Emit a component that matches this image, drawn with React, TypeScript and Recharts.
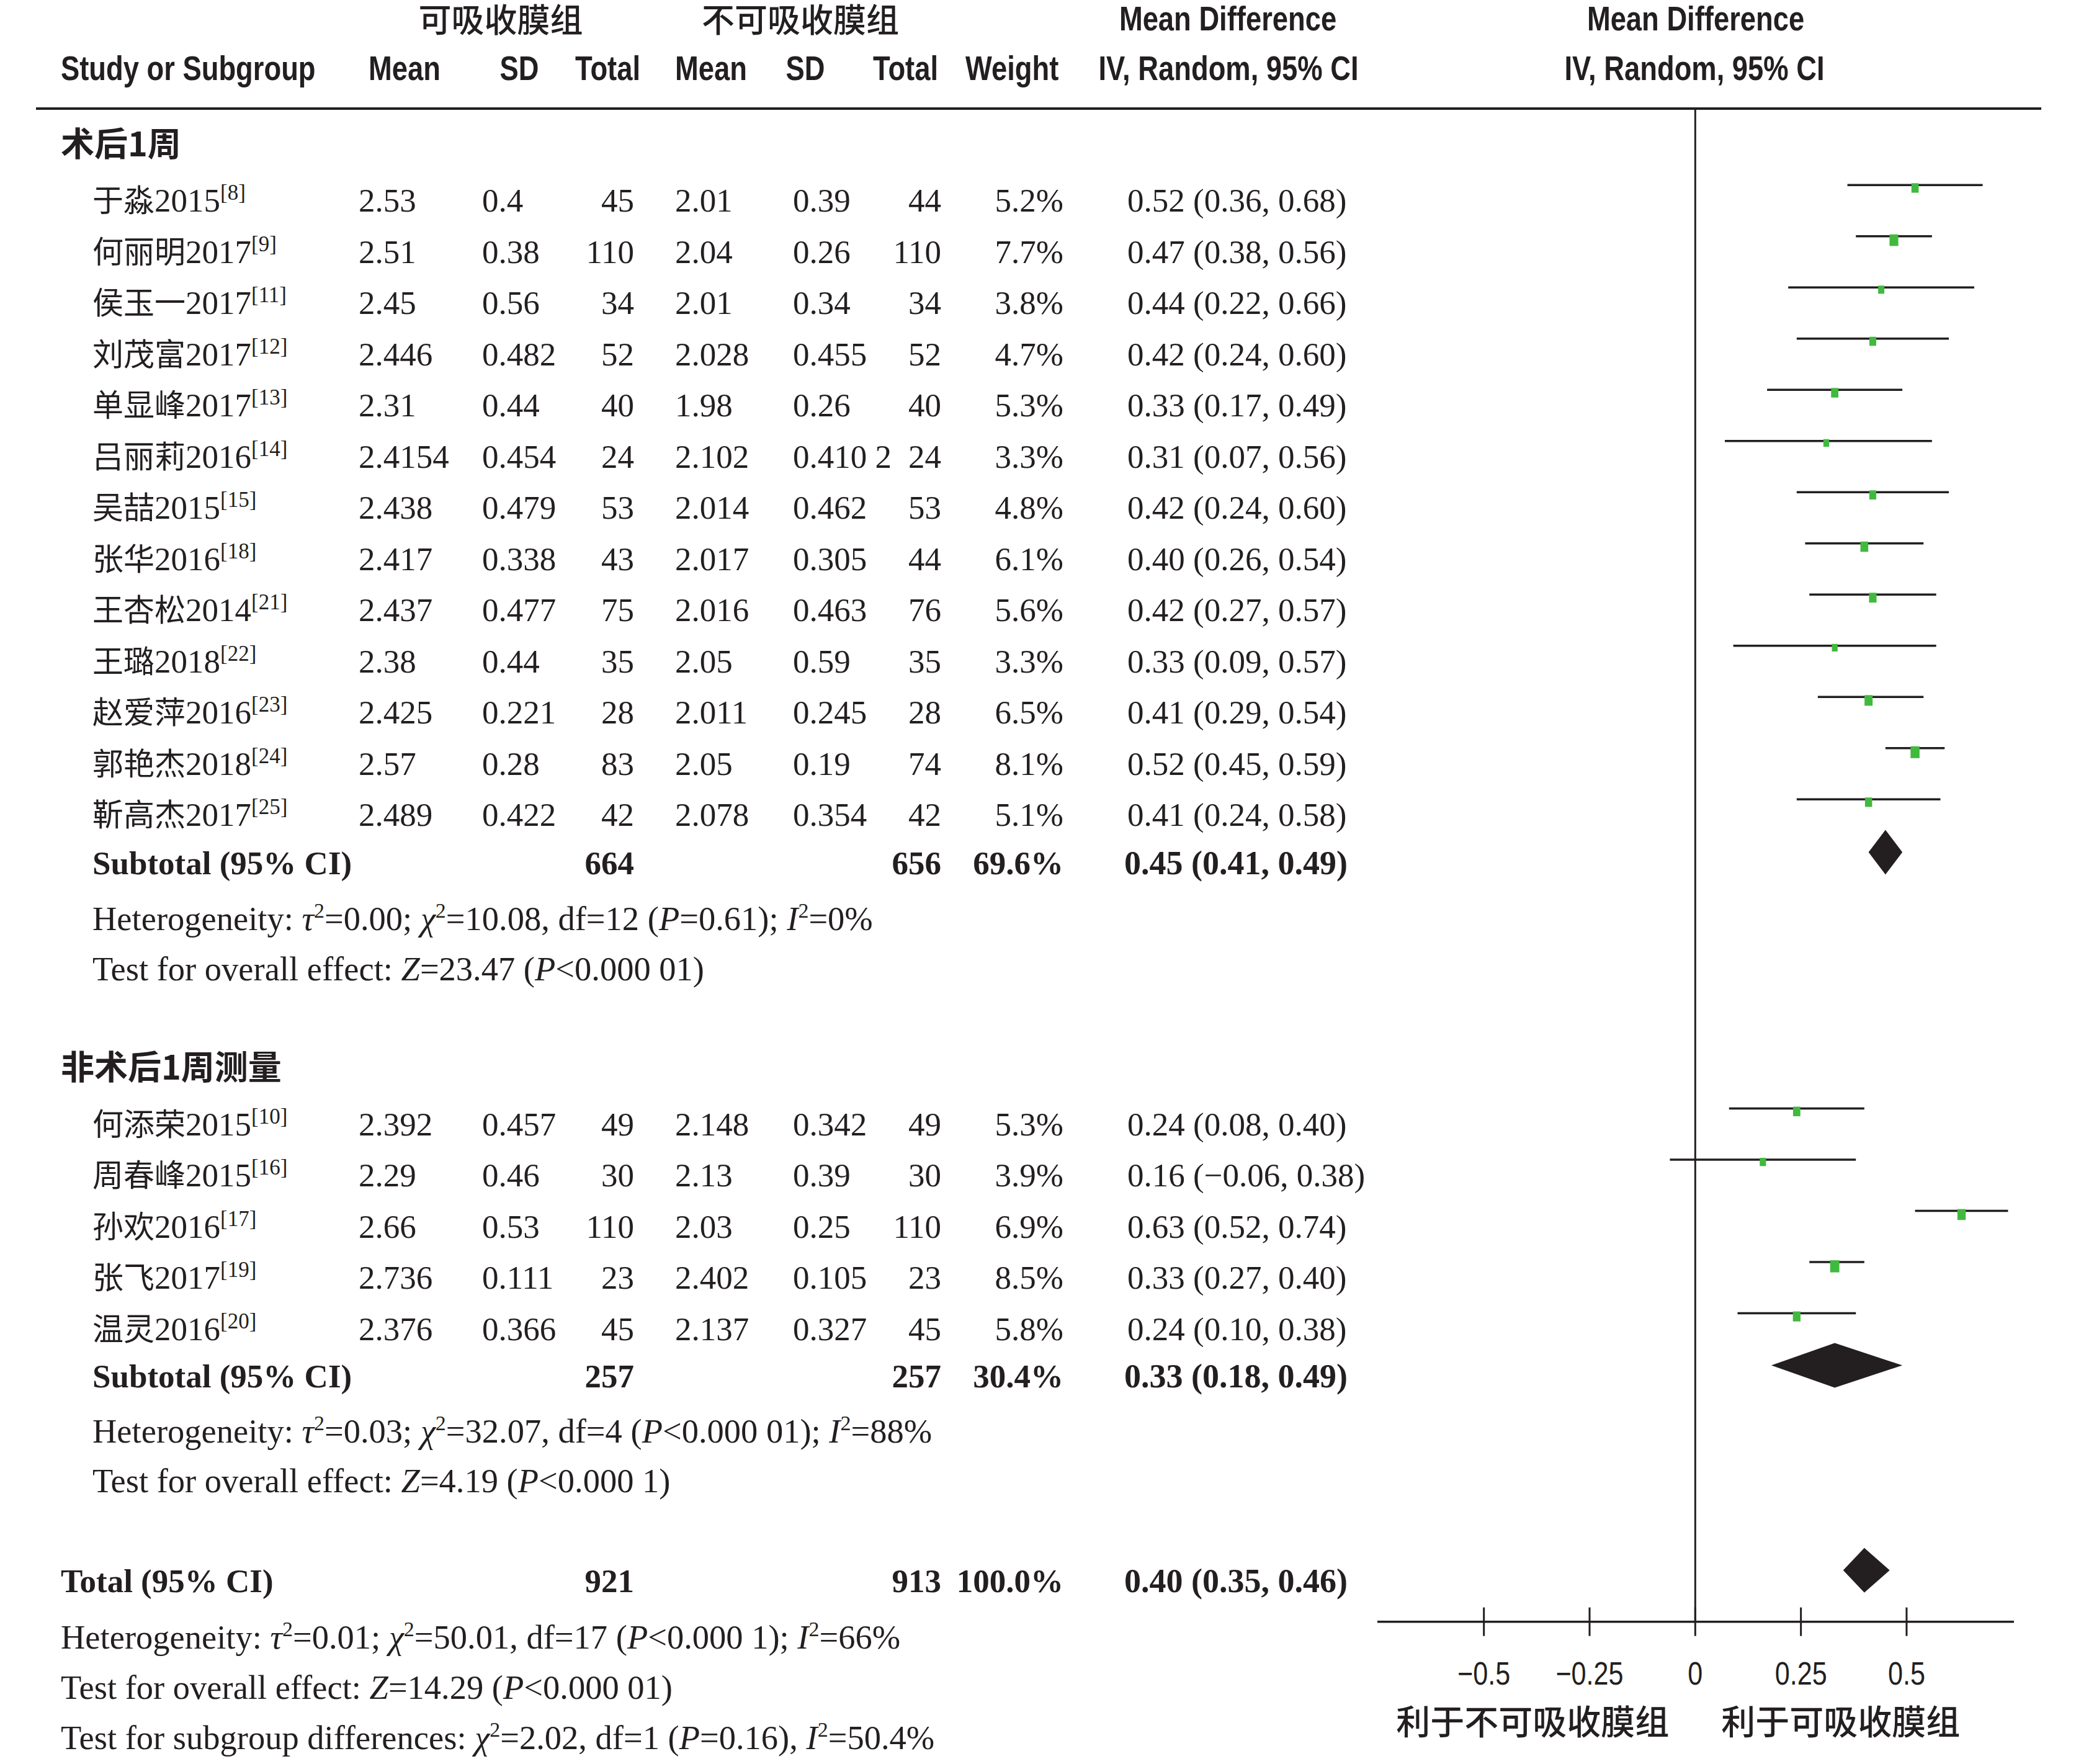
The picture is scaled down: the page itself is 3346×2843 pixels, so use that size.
import React from 'react';
import {
  ComposedChart,
  XAxis,
  YAxis,
  Scatter,
  ErrorBar,
  ReferenceLine,
  ReferenceArea,
  ReferenceDot,
} from 'recharts';

const W = 3346;
const H = 2843;

// ---------- data ----------
const groupNames = ['术后1周', '非术后1周测量'];
const armNames = ['可吸收膜组', '不可吸收膜组'];
const colHeads = ['Mean', 'SD', 'Total', 'Mean', 'SD', 'Total', 'Weight'];
const mdHead = ['Mean Difference', 'IV, Random, 95% CI'];

const g1Study = ['于淼2015', '何丽明2017', '侯玉一2017', '刘茂富2017', '单显峰2017', '吕丽莉2016', '吴喆2015', '张华2016', '王杏松2014', '王璐2018', '赵爱萍2016', '郭艳杰2018', '靳高杰2017'];
const g1Ref = ['8', '9', '11', '12', '13', '14', '15', '18', '21', '22', '23', '24', '25'];
const g1MeanA = ['2.53', '2.51', '2.45', '2.446', '2.31', '2.4154', '2.438', '2.417', '2.437', '2.38', '2.425', '2.57', '2.489'];
const g1SdA = ['0.4', '0.38', '0.56', '0.482', '0.44', '0.454', '0.479', '0.338', '0.477', '0.44', '0.221', '0.28', '0.422'];
const g1NA = [45, 110, 34, 52, 40, 24, 53, 43, 75, 35, 28, 83, 42];
const g1MeanB = ['2.01', '2.04', '2.01', '2.028', '1.98', '2.102', '2.014', '2.017', '2.016', '2.05', '2.011', '2.05', '2.078'];
const g1SdB = ['0.39', '0.26', '0.34', '0.455', '0.26', '0.410 2', '0.462', '0.305', '0.463', '0.59', '0.245', '0.19', '0.354'];
const g1NB = [44, 110, 34, 52, 40, 24, 53, 44, 76, 35, 28, 74, 42];
const g1Weight = [5.2, 7.7, 3.8, 4.7, 5.3, 3.3, 4.8, 6.1, 5.6, 3.3, 6.5, 8.1, 5.1];
const g1MD = [0.52, 0.47, 0.44, 0.42, 0.33, 0.31, 0.42, 0.40, 0.42, 0.33, 0.41, 0.52, 0.41];
const g1Lo = [0.36, 0.38, 0.22, 0.24, 0.17, 0.07, 0.24, 0.26, 0.27, 0.09, 0.29, 0.45, 0.24];
const g1Hi = [0.68, 0.56, 0.66, 0.60, 0.49, 0.56, 0.60, 0.54, 0.57, 0.57, 0.54, 0.59, 0.58];

const g2Study = ['何添荣2015', '周春峰2015', '孙欢2016', '张飞2017', '温灵2016'];
const g2Ref = ['10', '16', '17', '19', '20'];
const g2MeanA = ['2.392', '2.29', '2.66', '2.736', '2.376'];
const g2SdA = ['0.457', '0.46', '0.53', '0.111', '0.366'];
const g2NA = [49, 30, 110, 23, 45];
const g2MeanB = ['2.148', '2.13', '2.03', '2.402', '2.137'];
const g2SdB = ['0.342', '0.39', '0.25', '0.105', '0.327'];
const g2NB = [49, 30, 110, 23, 45];
const g2Weight = [5.3, 3.9, 6.9, 8.5, 5.8];
const g2MD = [0.24, 0.16, 0.63, 0.33, 0.24];
const g2Lo = [0.08, -0.06, 0.52, 0.27, 0.10];
const g2Hi = [0.40, 0.38, 0.74, 0.40, 0.38];

const sumLabel = ['Subtotal (95% CI)', 'Subtotal (95% CI)', 'Total (95% CI)'];
const sumNA = [664, 257, 921];
const sumNB = [656, 257, 913];
const sumWeight = [69.6, 30.4, 100.0];
const sumMD = [0.45, 0.33, 0.40];
const sumLo = [0.41, 0.18, 0.35];
const sumHi = [0.49, 0.49, 0.46];

const g1Stats = [
  'Heterogeneity: *τ*^2^=0.00; *χ*^2^=10.08, df=12 (*P*=0.61); *I*^2^=0%',
  'Test for overall effect: *Z*=23.47 (*P*<0.000 01)',
];
const g2Stats = [
  'Heterogeneity: *τ*^2^=0.03; *χ*^2^=32.07, df=4 (*P*<0.000 01); *I*^2^=88%',
  'Test for overall effect: *Z*=4.19 (*P*<0.000 1)',
];
const totalStats = [
  'Heterogeneity: *τ*^2^=0.01; *χ*^2^=50.01, df=17 (*P*<0.000 1); *I*^2^=66%',
  'Test for overall effect: *Z*=14.29 (*P*<0.000 01)',
  'Test for subgroup differences: *χ*^2^=2.02, df=1 (*P*=0.16), *I*^2^=50.4%',
];

const axisTicks = [-0.5, -0.25, 0, 0.25, 0.5];
const axisTickLabels = ['−0.5', '−0.25', '0', '0.25', '0.5'];
const favourLabels = ['利于不可吸收膜组', '利于可吸收膜组'];

// ---------- layout (row units) ----------
const X_DOMAIN: [number, number] = [-0.752, 0.754];
const PITCH = 82.5;
const R_MIN = -298.3 / PITCH;
const R_MAX = (H - 298.3) / PITCH;
const ROW = {
  head1: -3.54,
  head2: -2.573,
  rule: -1.495,
  g1Head: -1.082,
  g1Start: 0,
  g1Sub: 13.033,
  g1Stats: [14.03, 15.01],
  g2Head: 16.957,
  g2Start: 18.04,
  g2Sub: 23.057,
  g2Stats: [24.04, 25.02],
  tot: 27.06,
  totStats: [28.07, 29.05, 30.03],
  axis: 28.065,
};
const DIAMOND_HALF = 36 / PITCH;
const TICK_HALF = 23 / PITCH;

const ink = '#231f20';
const green = '#41b93f';
const SERIF = "'Liberation Serif', 'Times New Roman', 'Noto Sans CJK SC', serif";
const SANS = "'Liberation Sans', Arial, sans-serif";
const CJK = "'Noto Sans CJK SC', sans-serif";
const FS = 53;

const fmt = (v: number) => v.toFixed(2).replace('-', '−');
const ciText = (m: number, l: number, h: number) => `${fmt(m)} (${fmt(l)}, ${fmt(h)})`;

function rich(s: string) {
  const parts = s.split(/(\*[^*]+\*|\^[^^]+\^)/).filter((p) => p.length > 0);
  const out: React.ReactNode[] = [];
  let raised = false;
  parts.forEach((p, i) => {
    if (p[0] === '^') {
      out.push(
        <tspan key={i} fontSize={34} dy={-20}>
          {p.slice(1, -1)}
        </tspan>
      );
      raised = true;
    } else {
      const italic = p[0] === '*';
      out.push(
        <tspan key={i} fontStyle={italic ? 'italic' : undefined} dy={raised ? 20 : undefined}>
          {italic ? p.slice(1, -1) : p}
        </tspan>
      );
      raised = false;
    }
  });
  return out;
}

const Txt = (p: { x: number; y: number; a?: 'start' | 'middle' | 'end'; b?: boolean; fs?: number; children: React.ReactNode }) => (
  <text
    x={p.x}
    y={p.y}
    textAnchor={p.a || 'start'}
    fontFamily={SERIF}
    fontSize={p.fs || FS}
    fontWeight={p.b ? 'bold' : 'normal'}
    fill={ink}
  >
    {p.children}
  </text>
);

const Head = (p: { x: number; y: number; a?: 'start' | 'middle' | 'end'; children: React.ReactNode }) => (
  <text
    transform={`translate(${p.x} ${p.y}) scale(0.81 1)`}
    textAnchor={p.a || 'middle'}
    fontFamily={SANS}
    fontWeight="bold"
    fontSize={56}
    fill={ink}
  >
    {p.children}
  </text>
);

const StudyName = ({ x, y, name, refNo }: { x: number; y: number; name: string; refNo: string }) => {
  const m = name.match(/^(\D+)(\d+)$/);
  const cjk = m ? m[1] : name;
  const yr = m ? m[2] : '';
  return (
    <text x={x} y={y} fontFamily={SERIF} fontSize={FS} fill={ink}>
      <tspan fontFamily={CJK} fontSize={50}>{cjk}</tspan>
      <tspan>{yr}</tspan>
      <tspan fontSize={35} dy={-19}>[{refNo}]</tspan>
    </text>
  );
};

type Row = { r: number; render: (y: number) => React.ReactElement };
const tableRows: Row[] = [];

tableRows.push({
  r: ROW.head1,
  render: (y) => {
    const b = y + 43;
    return (
      <g>
        <text x={807} y={b + 3} textAnchor="middle" fontFamily={CJK} fontWeight={500} fontSize={53} fill={ink}>{armNames[0]}</text>
        <text x={1290} y={b + 3} textAnchor="middle" fontFamily={CJK} fontWeight={500} fontSize={53} fill={ink}>{armNames[1]}</text>
        <Head x={1979} y={b}>{mdHead[0]}</Head>
        <Head x={2733} y={b}>{mdHead[0]}</Head>
      </g>
    );
  },
});
tableRows.push({
  r: ROW.head2,
  render: (y) => {
    const b = y + 43;
    return (
      <g>
        <Head x={98} y={b} a="start">Study or Subgroup</Head>
        <Head x={652} y={b}>{colHeads[0]}</Head>
        <Head x={837} y={b}>{colHeads[1]}</Head>
        <Head x={1032} y={b} a="end">{colHeads[2]}</Head>
        <Head x={1146} y={b}>{colHeads[3]}</Head>
        <Head x={1298} y={b}>{colHeads[4]}</Head>
        <Head x={1512} y={b} a="end">{colHeads[5]}</Head>
        <Head x={1556} y={b} a="start">{colHeads[6]}</Head>
        <Head x={1980} y={b}>{mdHead[1]}</Head>
        <Head x={2731} y={b}>{mdHead[1]}</Head>
      </g>
    );
  },
});
tableRows.push({
  r: ROW.rule,
  render: (y) => <line x1={58} x2={3290} y1={y} y2={y} stroke={ink} strokeWidth={4} />,
});

const groupHead = (r: number, name: string) =>
  tableRows.push({
    r,
    render: (y) => (
      <text x={98} y={y + 43} fontFamily={CJK} fontWeight="bold" fontSize={54} fill={ink}>
        {name}
      </text>
    ),
  });

type Study = {
  name: string; refNo: string; mA: string; sA: string; nA: number; mB: string; sB: string; nB: number;
  weight: number; md: number; lo: number; hi: number; r: number; err: [number, number];
};
const studies: Study[] = [];
const addGroup = (
  start: number, names: string[], refs: string[], mA: string[], sA: string[], nA: number[],
  mB: string[], sB: string[], nB: number[], w: number[], md: number[], lo: number[], hi: number[]
) => {
  names.forEach((n, i) => {
    const s: Study = {
      name: n, refNo: refs[i], mA: mA[i], sA: sA[i], nA: nA[i], mB: mB[i], sB: sB[i], nB: nB[i],
      weight: w[i], md: md[i], lo: lo[i], hi: hi[i], r: start + i, err: [md[i] - lo[i], hi[i] - md[i]],
    };
    studies.push(s);
    tableRows.push({
      r: s.r,
      render: (y) => {
        const b = y + 43;
        return (
          <g>
            <StudyName x={149} y={b} name={s.name} refNo={s.refNo} />
            <Txt x={578} y={b}>{s.mA}</Txt>
            <Txt x={777} y={b}>{s.sA}</Txt>
            <Txt x={1022} y={b} a="end">{s.nA}</Txt>
            <Txt x={1088} y={b}>{s.mB}</Txt>
            <Txt x={1278} y={b}>{s.sB}</Txt>
            <Txt x={1517} y={b} a="end">{s.nB}</Txt>
            <Txt x={1714} y={b} a="end">{s.weight.toFixed(1)}%</Txt>
            <Txt x={1817} y={b}>{ciText(s.md, s.lo, s.hi)}</Txt>
          </g>
        );
      },
    });
  });
};

const summaries: { r: number; md: number; lo: number; hi: number }[] = [];
const addSummary = (k: number, r: number, labelX: number) => {
  summaries.push({ r, md: sumMD[k], lo: sumLo[k], hi: sumHi[k] });
  tableRows.push({
    r,
    render: (y) => {
      const b = y + 35.5;
      return (
        <g>
          <Txt x={labelX} y={b} b>{sumLabel[k]}</Txt>
          <Txt x={1022} y={b} a="end" b>{sumNA[k]}</Txt>
          <Txt x={1517} y={b} a="end" b>{sumNB[k]}</Txt>
          <Txt x={1714} y={b} a="end" b>{sumWeight[k].toFixed(1)}%</Txt>
          <Txt x={1812} y={b} b fs={54}>{ciText(sumMD[k], sumLo[k], sumHi[k])}</Txt>
        </g>
      );
    },
  });
};
const addStats = (rs: number[], lines: string[], x: number) =>
  lines.forEach((l, i) =>
    tableRows.push({
      r: rs[i],
      render: (y) => <Txt x={x} y={y + 43} fs={54.5}>{rich(l)}</Txt>,
    })
  );

groupHead(ROW.g1Head, groupNames[0]);
addGroup(ROW.g1Start, g1Study, g1Ref, g1MeanA, g1SdA, g1NA, g1MeanB, g1SdB, g1NB, g1Weight, g1MD, g1Lo, g1Hi);
addSummary(0, ROW.g1Sub, 149);
addStats(ROW.g1Stats, g1Stats, 149);
groupHead(ROW.g2Head, groupNames[1]);
addGroup(ROW.g2Start, g2Study, g2Ref, g2MeanA, g2SdA, g2NA, g2MeanB, g2SdB, g2NB, g2Weight, g2MD, g2Lo, g2Hi);
addSummary(1, ROW.g2Sub, 149);
addStats(ROW.g2Stats, g2Stats, 149);
addSummary(2, ROW.tot, 98);
addStats(ROW.totStats, totalStats, 98);

const tableTicks = tableRows.map((t) => t.r);

const renderTableTick = (props: any) => {
  const v = props?.payload?.value;
  const row = tableRows.find((t) => Math.abs(t.r - v) < 1e-6);
  if (!row) return <g />;
  return <g>{row.render(props.y)}</g>;
};

const Marker = (p: any) => {
  const w = p.payload?.weight ?? 5;
  const bw = 5.1 * Math.sqrt(w);
  const bh = 6.7 * Math.sqrt(w);
  return <rect x={p.cx - bw / 2} y={p.cy - 3} width={bw} height={bh} fill={green} />;
};

const diamondShape = (frac: number) => (p: any) => {
  const { x, y, width, height } = p;
  const cx = x + frac * width;
  const cy = y + height / 2;
  return <polygon points={`${x},${cy} ${cx},${y} ${x + width},${cy} ${cx},${y + height}`} fill={ink} />;
};

export default function App() {
  return (
    <div style={{ position: 'absolute', left: 0, top: 0, width: W, height: H, background: '#fff' }}>
      <ComposedChart width={W} height={H} margin={{ top: 0, right: 100, bottom: 0, left: 0 }}>
        <XAxis type="number" dataKey="md" domain={X_DOMAIN} hide allowDataOverflow />
        <YAxis
          type="number"
          dataKey="r"
          domain={[R_MIN, R_MAX]}
          reversed
          allowDataOverflow
          width={2220}
          ticks={tableTicks}
          interval={0}
          tick={renderTableTick}
          tickLine={false}
          axisLine={false}
        />
        <ReferenceLine
          segment={[{ x: 0, y: ROW.rule }, { x: 0, y: ROW.axis }]}
          stroke={ink}
          strokeWidth={3}
          ifOverflow="visible"
        />
        <ReferenceLine
          segment={[{ x: X_DOMAIN[0], y: ROW.axis }, { x: X_DOMAIN[1], y: ROW.axis }]}
          stroke={ink}
          strokeWidth={3.5}
          ifOverflow="visible"
        />
        {axisTicks.map((t) => (
          <ReferenceLine
            key={`t${t}`}
            segment={[{ x: t, y: ROW.axis - TICK_HALF }, { x: t, y: ROW.axis + TICK_HALF }]}
            stroke={ink}
            strokeWidth={3}
            ifOverflow="visible"
          />
        ))}
        {axisTicks.map((t, i) => (
          <ReferenceDot
            key={`l${t}`}
            x={t}
            y={ROW.axis}
            r={1}
            ifOverflow="visible"
            shape={(p: any) => (
              <text
                transform={`translate(${p.cx} ${p.cy + 101}) scale(0.83 1)`}
                textAnchor="middle"
                fontFamily={SANS}
                fontSize={52}
                fill={ink}
              >
                {axisTickLabels[i]}
              </text>
            )}
          />
        ))}
        <ReferenceDot
          x={0}
          y={ROW.axis}
          r={1}
          ifOverflow="visible"
          shape={(p: any) => (
            <g>
              <text x={p.cx - 42} y={p.cy + 181} textAnchor="end" fontFamily={CJK} fontWeight={500} fontSize={55} fill={ink}>
                {favourLabels[0]}
              </text>
              <text x={p.cx + 42} y={p.cy + 181} textAnchor="start" fontFamily={CJK} fontWeight={500} fontSize={55} fill={ink}>
                {favourLabels[1]}
              </text>
            </g>
          )}
        />
        {summaries.map((s, i) => (
          <ReferenceArea
            key={`d${i}`}
            x1={s.lo}
            x2={s.hi}
            y1={s.r - DIAMOND_HALF}
            y2={s.r + DIAMOND_HALF}
            ifOverflow="visible"
            shape={diamondShape((s.md - s.lo) / (s.hi - s.lo))}
          />
        ))}
        <Scatter data={studies} shape={Marker} isAnimationActive={false}>
          <ErrorBar dataKey="err" direction="x" width={0} stroke={ink} strokeWidth={3.5} />
        </Scatter>
      </ComposedChart>
    </div>
  );
}
